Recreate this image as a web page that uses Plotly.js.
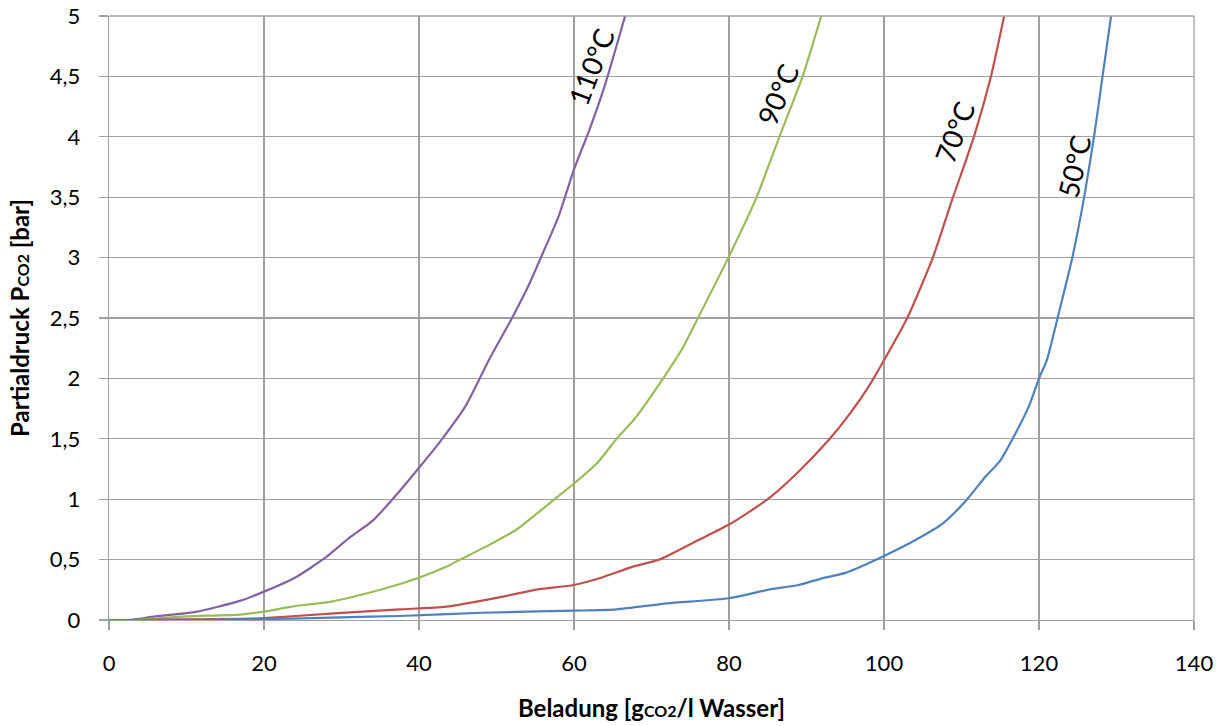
<!DOCTYPE html>
<html>
<head>
<meta charset="utf-8">
<script src="https://cdn.plot.ly/plotly-3.0.1.min.js"></script>
<style>html,body{margin:0;padding:0;background:#fff;}#chart{width:1227px;height:726px;}</style>
</head>
<body>
<div id="chart"></div>
<script>
// Series: Beladung (g CO2 / l Wasser) vs Partialdruck (bar)
const x110 = [0, 2.5, 6, 11, 17, 20, 24, 28, 31, 34, 37, 40, 43, 46, 49, 52, 54, 56, 58, 60, 62, 64, 66.6];
const y110 = [0, 0, 0.03, 0.065, 0.16, 0.235, 0.35, 0.52, 0.68, 0.82, 1.03, 1.26, 1.5, 1.77, 2.15, 2.5, 2.75, 3.04, 3.34, 3.73, 4.06, 4.43, 5.0];

const x90 = [0, 3, 10, 17, 20, 24, 28.5, 35, 40, 43.5, 45, 49, 52.5, 55, 57.5, 60, 63, 65.5, 68, 71.5, 74, 76, 80, 83.5, 86.5, 89.5, 91.9];
const y90 = [0, 0, 0.03, 0.045, 0.07, 0.115, 0.15, 0.25, 0.35, 0.44, 0.49, 0.62, 0.745, 0.87, 1.0, 1.13, 1.3, 1.5, 1.68, 2.0, 2.25, 2.5, 3.01, 3.49, 4.0, 4.5, 5.0];

const x70 = [0, 3, 10, 17, 20, 29, 37.5, 43.5, 50.5, 55, 60, 63.5, 67.5, 71, 76, 80, 85, 89, 93, 95.5, 98, 100, 103, 106.3, 108.8, 111.6, 113.8, 115.5];
const y70 = [0, 0, 0.005, 0.01, 0.015, 0.055, 0.088, 0.11, 0.19, 0.25, 0.29, 0.35, 0.44, 0.5, 0.66, 0.79, 1.0, 1.23, 1.5, 1.7, 1.93, 2.15, 2.5, 3.0, 3.48, 4.0, 4.5, 5.0];

const x50 = [0, 3, 10, 20, 30, 37.5, 48, 60, 65.5, 72, 80, 85, 89, 92, 95, 100, 104, 107.6, 110.6, 113, 115, 116.6, 118.7, 120, 121, 122.4, 124.3, 125.8, 127.1, 128.2, 129.3];
const y50 = [0, 0, 0.002, 0.007, 0.022, 0.033, 0.06, 0.077, 0.088, 0.138, 0.18, 0.25, 0.29, 0.345, 0.39, 0.53, 0.66, 0.8, 0.99, 1.18, 1.32, 1.5, 1.77, 2.0, 2.15, 2.5, 3.0, 3.49, 4.0, 4.5, 5.0];

const seriesNames = ["110°C", "90°C", "70°C", "50°C"];
const seriesColors = ["#8064A2", "#9BBB59", "#C0504D", "#4F81BD"];

// Curve label positions (data coords) and angles
const labelX = [62.2, 86.2, 109.1, 124.5];
const labelY = [4.575, 4.35, 4.04, 3.76];
const labelAngle = [-69, -67, -69, -77];

const xs = [x110, x90, x70, x50];
const ys = [y110, y90, y70, y50];

const traces = xs.map((xv, i) => ({
  x: xv, y: ys[i], type: 'scatter', mode: 'lines', name: seriesNames[i],
  line: {color: seriesColors[i], width: 2.2, shape: 'spline', smoothing: 0.6},
  hoverinfo: 'x+y'
}));

const annotations = seriesNames.map((t, i) => ({
  x: labelX[i], y: labelY[i], xref: 'x', yref: 'y', text: t, showarrow: false,
  textangle: labelAngle[i], font: {family: 'Lato, sans-serif', size: 28, color: '#000'}
}));

const layout = {
  width: 1227, height: 726,
  margin: {l: 109, r: 33, t: 16, b: 106},
  paper_bgcolor: '#fff', plot_bgcolor: '#fff',
  showlegend: false,
  separators: ',.',
  font: {family: 'Lato, sans-serif', size: 22, color: '#000'},
  xaxis: {
    range: [0, 140], dtick: 20, tick0: 0,
    showgrid: true, gridcolor: '#a0a0a0', gridwidth: 1.3,
    zeroline: false, showline: true, linecolor: '#a0a0a0', linewidth: 1.3, mirror: false,
    ticks: 'outside', ticklen: 9, tickcolor: '#a0a0a0', tickwidth: 1.3,
    ticklabelstandoff: 14,
    tickfont: {family: 'Lato, sans-serif', size: 22, color: '#000'},
    title: {text: 'Beladung [g<span style="font-size:16px">CO2</span>/l Wasser]', standoff: 25,
            font: {family: 'Lato, sans-serif', size: 24, color: '#000', weight: 'bold'}}
  },
  yaxis: {
    range: [0, 5], dtick: 0.5, tick0: 0,
    showgrid: true, gridcolor: '#a0a0a0', gridwidth: 1.3,
    zeroline: false, showline: true, linecolor: '#a0a0a0', linewidth: 1.3,
    ticks: 'outside', ticklen: 9, tickcolor: '#a0a0a0', tickwidth: 1.3,
    ticklabelstandoff: 14,
    tickfont: {family: 'Lato, sans-serif', size: 22, color: '#000'},
    title: {text: 'Partialdruck P<span style="font-size:16px">CO2</span> [bar]', standoff: 13,
            font: {family: 'Lato, sans-serif', size: 24, color: '#000', weight: 'bold'}}
  },
  shapes: [
    {type: 'line', xref: 'paper', yref: 'paper', x0: 1, x1: 1, y0: 0, y1: 1, line: {color: '#a0a0a0', width: 1.3}},
    {type: 'line', xref: 'paper', yref: 'paper', x0: 0, x1: 1, y0: 1, y1: 1, line: {color: '#a0a0a0', width: 1.3}}
  ],
  annotations: annotations
};

Plotly.newPlot('chart', traces, layout, {displayModeBar: false, staticPlot: true});
</script>
</body>
</html>
